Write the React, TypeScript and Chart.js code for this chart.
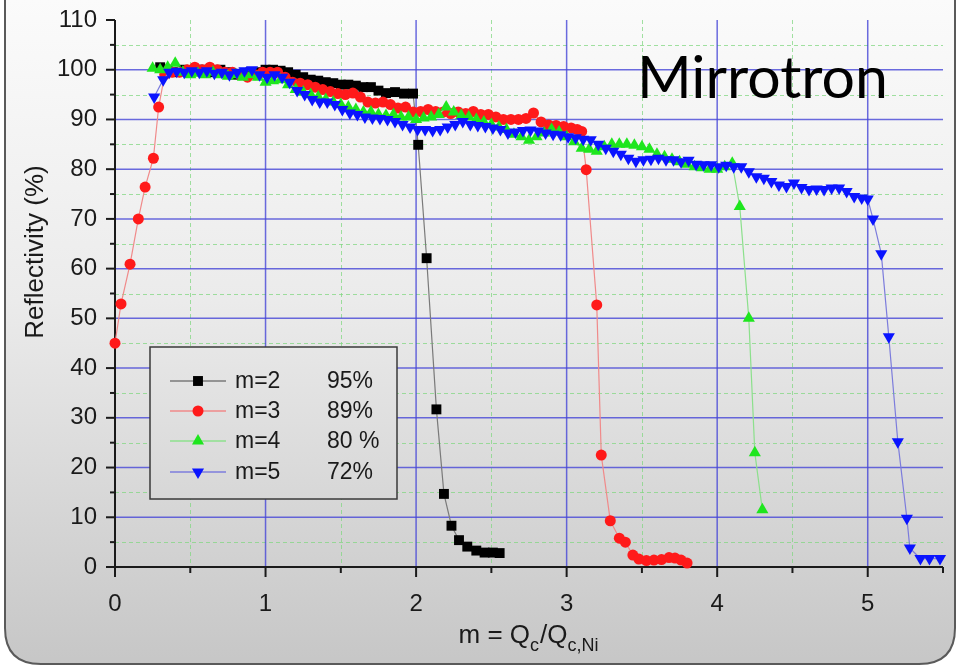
import React, { useEffect, useRef } from "react";
import { Chart, registerables } from "chart.js";

Chart.register(...registerables);

// ---- data ----
const m2X = [0.30,0.35,0.40,0.45,0.50,0.55,0.60,0.65,0.70,0.75,0.80,0.85,0.90,0.95,1.00,1.05,1.10,1.15,1.20,1.25,1.30,1.35,1.40,1.45,1.50,1.55,1.60,1.65,1.70,1.75,1.80,1.86,1.92,1.98,2.014,2.07,2.135,2.185,2.235,2.285,2.34,2.40,2.455,2.51,2.555];
const m2Y = [100.5,100,99.5,100,99.5,100,100,99.5,100,99.5,99,99,99.5,99.5,100,100,99.8,99.5,99,98.5,98,97.8,97.5,97.3,97,97,96.8,96.5,96.5,95.8,95.3,95.5,95.2,95.2,84.9,62.1,31.7,14.7,8.3,5.4,4.1,3.3,2.9,2.9,2.8];

const m3X = [0,0.04,0.10,0.155,0.20,0.255,0.29,0.33,0.38,0.43,0.48,0.53,0.58,0.63,0.68,0.73,0.78,0.83,0.88,0.93,0.98,1.03,1.08,1.13,1.18,1.23,1.28,1.33,1.38,1.43,1.48,1.53,1.58,1.63,1.68,1.73,1.78,1.83,1.88,1.93,1.98,2.03,2.08,2.13,2.18,2.23,2.28,2.33,2.38,2.43,2.48,2.53,2.58,2.63,2.68,2.73,2.78,2.83,2.88,2.93,2.98,3.03,3.07,3.10,3.13,3.20,3.23,3.29,3.35,3.39,3.44,3.48,3.53,3.58,3.63,3.68,3.72,3.76,3.80];
const m3Y = [45,52.9,60.9,70,76.4,82.2,92.5,99,99.5,99.5,100,100.5,100,100.5,100,99.5,99.5,99,98.5,99,99.5,99.5,99.5,98.5,97.5,97.3,97,96.5,96,95.6,95.2,95,95.3,94.5,93.5,93.3,93.5,93,92.3,92.5,91.5,91.6,92,91.6,91.5,91.2,91.5,91.2,91.6,91,91,90.5,90,90,90,90.2,91.3,89.5,88.9,88.8,88.6,88.3,88,87.6,79.9,52.7,22.5,9.3,5.8,5,2.4,1.6,1.3,1.4,1.5,1.9,1.8,1.4,0.8];

const m4X = [0.25,0.30,0.35,0.40,0.45,0.50,0.55,0.60,0.65,0.70,0.75,0.80,0.85,0.90,0.95,1.00,1.05,1.10,1.15,1.20,1.25,1.30,1.35,1.40,1.45,1.50,1.55,1.60,1.65,1.70,1.75,1.80,1.85,1.90,1.95,2.00,2.05,2.10,2.15,2.20,2.25,2.30,2.35,2.40,2.45,2.50,2.55,2.60,2.65,2.70,2.75,2.80,2.85,2.90,2.95,3.00,3.05,3.10,3.15,3.20,3.25,3.30,3.35,3.40,3.45,3.50,3.55,3.60,3.65,3.70,3.75,3.80,3.85,3.90,3.95,4.00,4.05,4.10,4.15,4.21,4.25,4.30];
const m4Y = [100.3,100,100.5,101.3,99.5,99,99.3,99,99.5,99,98.7,99,98.5,99,98.5,97.5,97.8,98,97,96,95.5,95,94.5,94,93.5,93,92.5,92,91.5,91.5,91,90.8,91,90.5,90.5,90,90.3,90.5,91,92.5,91.5,90.8,90.5,90,89.5,89,88.5,88,87,86.5,85.8,86.5,87.3,88,87.5,86.5,85.5,84.2,84,83.6,84.5,85,85,85,84.8,84.5,84,83,82.5,82,81.5,81,80.5,80.3,80,80,80.5,81.2,72.5,50,23,11.5];

const m5X = [0.26,0.32,0.36,0.41,0.46,0.51,0.56,0.61,0.66,0.71,0.76,0.81,0.86,0.91,0.96,1.01,1.06,1.11,1.16,1.21,1.26,1.31,1.36,1.41,1.46,1.51,1.56,1.61,1.66,1.71,1.76,1.81,1.86,1.91,1.96,2.01,2.06,2.11,2.16,2.21,2.26,2.31,2.36,2.41,2.46,2.51,2.56,2.61,2.66,2.71,2.76,2.81,2.86,2.91,2.96,3.01,3.06,3.11,3.16,3.21,3.26,3.31,3.36,3.41,3.46,3.51,3.56,3.61,3.66,3.71,3.76,3.81,3.86,3.91,3.96,4.01,4.06,4.11,4.16,4.21,4.26,4.31,4.36,4.41,4.46,4.51,4.56,4.61,4.66,4.71,4.76,4.81,4.86,4.91,4.96,5.00,5.035,5.09,5.14,5.20,5.26,5.28,5.35,5.41,5.48];
const m5Y = [94.5,98,99.5,99.7,99.5,99.8,99.5,99.8,99.3,99.5,99,99.5,99.8,100,99,98.5,99,98.5,97.5,95.8,95,94,93.5,93.5,93,92,91.3,91,90.5,90.3,90.2,90,89.6,89,88.5,88,88,87.8,88,88.5,89,89.6,89,88.8,88.6,88.3,88,87.3,87.5,87.8,87.9,87.7,87.3,87,86.9,86.5,86.3,86,85.9,85,84.2,83.6,83,82.2,81.6,81.9,82,82.2,81.9,81.9,81.5,81.8,81,80.9,80.9,80.5,80.8,80.5,80.5,79.5,78.5,78.2,77.5,76.8,76.5,77.2,76.3,75.9,76,75.9,76.2,76.2,75.5,74.5,74.2,74,70,63,46.3,25.2,9.8,3.8,1.7,1.7,1.7];

const seriesNames = ["m=2", "m=3", "m=4", "m=5"];
const seriesPercents = ["95%", "89%", "80 %", "72%"];
const xMajorTicks = [0, 1, 2, 3, 4, 5];
const xMinorTicks = [0.5, 1.5, 2.5, 3.5, 4.5, 5.5];
const yMajorTicks = [0, 10, 20, 30, 40, 50, 60, 70, 80, 90, 100, 110];
const yMinorTicks = [5, 15, 25, 35, 45, 55, 65, 75, 85, 95, 105];
const xGridMajor = [1, 2, 3, 4, 5];
const yGridMajor = [10, 20, 30, 40, 50, 60, 70, 80, 90, 100];
const xGridMinor = [0.5, 1.5, 2.5, 3.5, 4.5];
const yGridMinor = [5, 15, 25, 35, 45, 55, 65, 75, 85, 95, 105];

const markerColors = ["#000000", "#ff1a1a", "#1ee61e", "#0a14ff"];
const lineColors = ["#7a7a7a", "#f08a8a", "#8ce08c", "#7c7cdc"];
const markerStyles = ["rect", "circle", "triangle", "triangle"];
const markerRadius = [7, 5.5, 7, 7];
const markerRotation = [0, 0, 0, 180];

const FONT = "'Liberation Sans', Arial, sans-serif";

function toPoints(xs: number[], ys: number[]) {
  return xs.map((x, i) => ({ x, y: ys[i] }));
}

function makeBgGradient(ctx: CanvasRenderingContext2D, H: number) {
  const g = ctx.createLinearGradient(0, 0, 0, H);
  g.addColorStop(0, "#fbfbfb");
  g.addColorStop(0.45, "#ebebeb");
  g.addColorStop(1, "#c6c6c6");
  return g;
}

function roundRectPath(ctx: CanvasRenderingContext2D, x: number, y: number, w: number, h: number, r: number) {
  ctx.beginPath();
  ctx.moveTo(x + r, y);
  ctx.lineTo(x + w - r, y);
  ctx.quadraticCurveTo(x + w, y, x + w, y + r);
  ctx.lineTo(x + w, y + h - r);
  ctx.quadraticCurveTo(x + w, y + h, x + w - r, y + h);
  ctx.lineTo(x + r, y + h);
  ctx.quadraticCurveTo(x, y + h, x, y + h - r);
  ctx.lineTo(x, y + r);
  ctx.quadraticCurveTo(x, y, x + r, y);
  ctx.closePath();
}

function drawMarker(ctx: CanvasRenderingContext2D, i: number, x: number, y: number) {
  ctx.fillStyle = markerColors[i];
  const r = markerRadius[i];
  ctx.beginPath();
  if (markerStyles[i] === "rect") {
    const s = r * Math.SQRT1_2;
    ctx.rect(x - s, y - s, 2 * s, 2 * s);
  } else if (markerStyles[i] === "circle") {
    ctx.arc(x, y, r, 0, Math.PI * 2);
  } else {
    const rot = (markerRotation[i] * Math.PI) / 180;
    let a = rot;
    ctx.moveTo(x + Math.sin(a) * r, y - Math.cos(a) * r);
    a += (2 * Math.PI) / 3;
    ctx.lineTo(x + Math.sin(a) * r, y - Math.cos(a) * r);
    a += (2 * Math.PI) / 3;
    ctx.lineTo(x + Math.sin(a) * r, y - Math.cos(a) * r);
    ctx.closePath();
  }
  ctx.fill();
}

const framePlugin = {
  id: "frame",
  beforeDraw(chart: any) {
    const ctx: CanvasRenderingContext2D = chart.ctx;
    const W = chart.width, H = chart.height;
    ctx.save();
    ctx.fillStyle = "#ffffff";
    ctx.fillRect(0, 0, W, H);
    roundRectPath(ctx, 5, -40, 950, 704, 36);
    ctx.fillStyle = makeBgGradient(ctx, H);
    ctx.fill();
    ctx.lineWidth = 2;
    ctx.strokeStyle = "#5a5a5a";
    ctx.stroke();
    ctx.restore();
  },
};

const gridPlugin = {
  id: "customGrid",
  beforeDatasetsDraw(chart: any) {
    const ctx: CanvasRenderingContext2D = chart.ctx;
    const { left, right, top, bottom } = chart.chartArea;
    const xs = chart.scales.x, ys = chart.scales.y;
    ctx.save();
    // minor dashed green
    ctx.strokeStyle = "rgba(130,215,130,0.75)";
    ctx.lineWidth = 1;
    ctx.setLineDash([4, 3]);
    xGridMinor.forEach((v) => {
      const px = Math.round(xs.getPixelForValue(v)) + 0.5;
      ctx.beginPath(); ctx.moveTo(px, top); ctx.lineTo(px, bottom); ctx.stroke();
    });
    yGridMinor.forEach((v) => {
      const py = Math.round(ys.getPixelForValue(v)) + 0.5;
      ctx.beginPath(); ctx.moveTo(left, py); ctx.lineTo(right, py); ctx.stroke();
    });
    ctx.setLineDash([]);
    // major blue
    ctx.strokeStyle = "rgba(70,70,215,0.8)";
    ctx.lineWidth = 1.5;
    xGridMajor.forEach((v) => {
      const px = xs.getPixelForValue(v);
      ctx.beginPath(); ctx.moveTo(px, top); ctx.lineTo(px, bottom); ctx.stroke();
    });
    yGridMajor.forEach((v) => {
      const py = ys.getPixelForValue(v);
      ctx.beginPath(); ctx.moveTo(left, py); ctx.lineTo(right, py); ctx.stroke();
    });
    // axes
    ctx.strokeStyle = "#1a1a1a";
    ctx.lineWidth = 2;
    ctx.beginPath(); ctx.moveTo(left, top); ctx.lineTo(left, bottom + 1); ctx.stroke();
    ctx.beginPath(); ctx.moveTo(left - 1, bottom); ctx.lineTo(right, bottom); ctx.stroke();
    // ticks
    ctx.lineWidth = 2;
    yMajorTicks.forEach((v) => {
      const py = ys.getPixelForValue(v);
      ctx.beginPath(); ctx.moveTo(left - 9, py); ctx.lineTo(left, py); ctx.stroke();
    });
    yMinorTicks.forEach((v) => {
      const py = ys.getPixelForValue(v);
      ctx.beginPath(); ctx.moveTo(left - 5, py); ctx.lineTo(left, py); ctx.stroke();
    });
    xMajorTicks.forEach((v) => {
      const px = xs.getPixelForValue(v);
      ctx.beginPath(); ctx.moveTo(px, bottom); ctx.lineTo(px, bottom + 10); ctx.stroke();
    });
    xMinorTicks.forEach((v) => {
      const px = xs.getPixelForValue(v);
      ctx.beginPath(); ctx.moveTo(px, bottom); ctx.lineTo(px, bottom + 6); ctx.stroke();
    });
    ctx.restore();
  },
};

const annotPlugin = {
  id: "annot",
  afterDraw(chart: any) {
    const ctx: CanvasRenderingContext2D = chart.ctx;
    const H = chart.height;
    ctx.save();
    // y title
    ctx.fillStyle = "#1a1a1a";
    ctx.font = `26px ${FONT}`;
    ctx.textAlign = "center";
    ctx.textBaseline = "middle";
    ctx.translate(36, 252);
    ctx.rotate(-Math.PI / 2);
    ctx.fillText("Reflectivity (%)", 0, 0);
    ctx.setTransform(1, 0, 0, 1, 0, 0);
    // x title with subscripts, centred under the plot
    ctx.textAlign = "left";
    ctx.textBaseline = "alphabetic";
    const base = 643;
    const parts: [string, boolean][] = [["m = Q", false], ["c", true], ["/Q", false], ["c,Ni", true]];
    let total = 0;
    parts.forEach(([t, sub]) => {
      ctx.font = sub ? `18px ${FONT}` : `26px ${FONT}`;
      total += ctx.measureText(t).width + (sub ? 1 : 0);
    });
    const { left, right } = chart.chartArea;
    let x = (left + right) / 2 - total / 2;
    parts.forEach(([t, sub]) => {
      ctx.font = sub ? `18px ${FONT}` : `26px ${FONT}`;
      ctx.fillText(t, x, sub ? base + 8 : base);
      x += ctx.measureText(t).width + (sub ? 1 : 0);
    });
    // Mirrotron
    ctx.font = `59px Lato, 'Open Sans', sans-serif`;
    ctx.fillStyle = "#000000";
    ctx.fillText("Mirrotron", 637, 98);
    // legend
    const lx = 150, ly = 347, lw = 247, lh = 152;
    ctx.fillStyle = makeBgGradient(ctx, H);
    ctx.fillRect(lx, ly, lw, lh);
    ctx.strokeStyle = "#3a3a3a";
    ctx.lineWidth = 1.5;
    ctx.strokeRect(lx, ly, lw, lh);
    const rows = [381, 411, 441, 472];
    seriesNames.forEach((name, i) => {
      const y = rows[i];
      ctx.strokeStyle = lineColors[i];
      ctx.lineWidth = 1.5;
      ctx.beginPath(); ctx.moveTo(170, y); ctx.lineTo(226, y); ctx.stroke();
      drawMarker(ctx, i, 198, y);
      ctx.fillStyle = "#1a1a1a";
      ctx.font = `23px ${FONT}`;
      ctx.textBaseline = "middle";
      ctx.textAlign = "left";
      ctx.fillText(name, 235, y + 1);
      ctx.fillText(seriesPercents[i], 327, y + 1);
    });
    ctx.restore();
  },
};

function makeDataset(i: number, xs: number[], ys: number[]) {
  return {
    label: seriesNames[i],
    data: toPoints(xs, ys),
    showLine: true,
    borderColor: lineColors[i],
    borderWidth: 1.2,
    backgroundColor: markerColors[i],
    pointBackgroundColor: markerColors[i],
    pointBorderWidth: 0,
    pointBorderColor: markerColors[i],
    pointStyle: markerStyles[i],
    pointRadius: markerRadius[i],
    pointRotation: markerRotation[i],
    pointHoverRadius: markerRadius[i],
    order: 3 - i,
    clip: false as any,
    tension: 0,
  };
}

export default function App() {
  const ref = useRef<HTMLCanvasElement | null>(null);
  useEffect(() => {
    if (!ref.current) return;
    const chart = new Chart(ref.current, {
      type: "scatter",
      data: {
        datasets: [
          makeDataset(0, m2X, m2Y),
          makeDataset(1, m3X, m3Y),
          makeDataset(2, m4X, m4Y),
          makeDataset(3, m5X, m5Y),
        ] as any,
      },
      options: {
        animation: false,
        responsive: false,
        maintainAspectRatio: false,
        events: [],
        layout: { padding: { top: 20, right: 17, left: 0, bottom: 0 } },
        plugins: { legend: { display: false }, tooltip: { enabled: false }, title: { display: false } },
        scales: {
          x: {
            type: "linear",
            min: 0,
            max: 5.5,
            grid: { display: false, drawTicks: false },
            border: { display: false },
            afterFit: (s: any) => { s.height = 102; s.paddingLeft = 0; s.paddingRight = 0; },
            afterBuildTicks: (s: any) => { s.ticks = xMajorTicks.map((v) => ({ value: v })); },
            ticks: { color: "#1a1a1a", font: { family: FONT, size: 24 }, padding: 23, maxRotation: 0, autoSkip: false },
          },
          y: {
            type: "linear",
            min: 0,
            max: 110,
            grid: { display: false, drawTicks: false },
            border: { display: false },
            afterFit: (s: any) => { s.width = 115; s.paddingTop = 0; s.paddingBottom = 0; },
            afterBuildTicks: (s: any) => { s.ticks = yMajorTicks.map((v) => ({ value: v })); },
            ticks: { color: "#1a1a1a", font: { family: FONT, size: 24 }, padding: 18, autoSkip: false },
          },
        },
      },
      plugins: [framePlugin, gridPlugin, annotPlugin],
    });
    return () => chart.destroy();
  }, []);
  return (
    <div style={{ position: "fixed", left: 0, top: 0, width: 960, height: 669 }}>
      <canvas ref={ref} width={960} height={669} style={{ display: "block", width: 960, height: 669 }} />
    </div>
  );
}
